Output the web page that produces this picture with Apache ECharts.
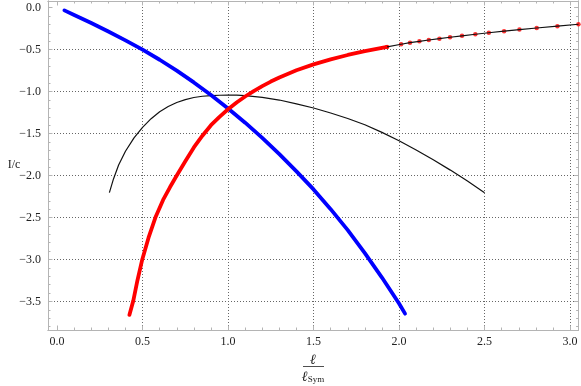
<!DOCTYPE html>
<html><head><meta charset="utf-8">
<script src="https://cdn.jsdelivr.net/npm/echarts@6/dist/echarts.min.js"></script>
<style>html,body{margin:0;padding:0;background:#fff}#c{width:581px;height:386px}</style>
</head><body><div id="c"></div>
<script>
// Blue curve
const blueX=[0.043,0.10,0.20,0.30,0.40,0.50,0.60,0.70,0.80,0.90,1.00,1.10,1.20,1.30,1.40,1.50,1.60,1.70,1.80,1.90,2.00,2.035];
const blueY=[-0.032,-0.086,-0.183,-0.284,-0.389,-0.50,-0.62,-0.75,-0.89,-1.04,-1.20,-1.37,-1.55,-1.745,-1.95,-2.165,-2.40,-2.65,-2.925,-3.215,-3.525,-3.645];
// Red curve (dense part)
const redX=[0.423,0.446,0.47,0.497,0.535,0.575,0.62,0.66,0.70,0.75,0.80,0.85,0.90,0.95,1.00,1.05,1.10,1.15,1.20,1.25,1.30,1.40,1.50,1.60,1.70,1.80,1.90,1.93];
const redY=[-3.66,-3.49,-3.25,-3.01,-2.74,-2.50,-2.29,-2.14,-2.00,-1.83,-1.665,-1.525,-1.40,-1.30,-1.21,-1.13,-1.058,-0.993,-0.934,-0.880,-0.831,-0.746,-0.675,-0.615,-0.563,-0.518,-0.478,-0.467];
// Red curve (sparse dots with fitted black line)
const dotX=[1.93,2.012,2.064,2.119,2.174,2.236,2.298,2.368,2.446,2.525,2.614,2.704,2.805,2.926,3.049];
const dotY=[-0.467,-0.435,-0.417,-0.400,-0.385,-0.369,-0.352,-0.335,-0.316,-0.298,-0.279,-0.261,-0.242,-0.220,-0.197];
// Black curve
const blackX=[0.306,0.33,0.36,0.40,0.45,0.50,0.55,0.60,0.65,0.70,0.75,0.80,0.85,0.90,0.95,1.00,1.05,1.10,1.20,1.30,1.40,1.50,1.60,1.70,1.80,1.90,2.00,2.10,2.20,2.30,2.40,2.50];
const blackY=[-2.204,-2.04,-1.875,-1.71,-1.55,-1.425,-1.322,-1.24,-1.178,-1.13,-1.095,-1.070,-1.055,-1.047,-1.043,-1.042,-1.042,-1.048,-1.068,-1.10,-1.145,-1.195,-1.255,-1.32,-1.395,-1.485,-1.585,-1.695,-1.812,-1.935,-2.065,-2.204];
// Ticks
const xMajor=[0,0.5,1,1.5,2,2.5,3];
const xMinor=[0.1,0.2,0.3,0.4,0.6,0.7,0.8,0.9,1.1,1.2,1.3,1.4,1.6,1.7,1.8,1.9,2.1,2.2,2.3,2.4,2.6,2.7,2.8,2.9];
const xGrid=[0.5,1,1.5,2,2.5,3];
const yMajor=[-3.5,-3,-2.5,-2,-1.5,-1,-0.5,0];
const yMinor=[-3.8,-3.7,-3.6,-3.4,-3.3,-3.2,-3.1,-2.9,-2.8,-2.7,-2.6,-2.4,-2.3,-2.2,-2.1,-1.9,-1.8,-1.7,-1.6,-1.4,-1.3,-1.2,-1.1,-0.9,-0.8,-0.7,-0.6,-0.4,-0.3,-0.2,-0.1];
const yGrid=[-3.5,-3,-2.5,-2,-1.5,-1,-0.5];

const X0=-0.053,X1=3.05,Y0=-3.84,Y1=0.08;
const frame='#b4b4b4';
const fmt=v=>(v<0?'\u2212':'')+Math.abs(v).toFixed(1);
const font='"Liberation Serif","Times New Roman",serif';

function ax(type,pos,ticks,len,labels,grid){
  return {
    type:'value',position:pos,
    min:type==='x'?X0:Y0,max:type==='x'?X1:Y1,
    axisLine:{show:!grid,onZero:false,lineStyle:{color:frame,width:1}},
    axisTick:{show:!grid,inside:true,length:len,customValues:ticks,lineStyle:{color:frame,width:1}},
    axisLabel:{show:!!labels,customValues:ticks,formatter:fmt,color:'#222',fontFamily:font,fontSize:12,margin:type==='x'?6:7},
    splitLine:{show:!!grid,lineStyle:{color:'#666',width:1,type:[1,2]}},
    minorTick:{show:false},
    z:grid?0:5
  };
}
const zip=(a,b)=>a.map((v,i)=>[v,b[i]]);

const chart=echarts.init(document.getElementById('c'),null,{renderer:'canvas'});
chart.setOption({
  animation:false,
  backgroundColor:'#fff',
  grid:{left:48,right:2.4,top:1,bottom:56,containLabel:false},
  xAxis:[
    ax('x','bottom',xMajor,4.5,true,false),
    ax('x','bottom',xMinor,2.5,false,false),
    ax('x','top',xMajor,4.5,false,false),
    ax('x','top',xMinor,2.5,false,false),
    ax('x','bottom',xGrid,0,false,true)
  ],
  yAxis:[
    ax('y','left',yMajor,4.5,true,false),
    ax('y','left',yMinor,2.5,false,false),
    ax('y','right',yMajor,4.5,false,false),
    ax('y','right',yMinor,2.5,false,false),
    ax('y','left',yGrid,0,false,true)
  ],
  series:[
    {type:'line',data:zip(blackX,blackY),showSymbol:false,smooth:false,lineStyle:{color:'#111',width:1.2},z:3},
    {type:'line',data:zip(blueX,blueY),showSymbol:false,smooth:false,lineStyle:{color:'#0000ff',width:3.8,cap:'round',join:'round'},z:4},
    {type:'line',data:zip(redX,redY),showSymbol:false,smooth:false,lineStyle:{color:'#ff0000',width:3.8,cap:'round',join:'round'},z:5},
    {type:'scatter',data:zip(dotX,dotY),symbol:'circle',symbolSize:4.5,itemStyle:{color:'#ff0000'},z:6},
    {type:'line',data:zip(dotX,dotY),showSymbol:false,smooth:false,lineStyle:{color:'#111',width:1.2},z:7}
  ],
  graphic:[
    {type:'text',x:313,y:360,style:{text:'\u2113',font:'italic 14px '+font,fill:'#222',align:'center',verticalAlign:'middle'}},
    {type:'line',shape:{x1:303,y1:366.5,x2:324,y2:366.5},style:{stroke:'#222',lineWidth:0.8}},
    {type:'text',x:313,y:377,style:{
      text:'{l|\u2113}{s|Sym}',align:'center',verticalAlign:'middle',
      rich:{l:{font:'italic 14px '+font,fill:'#222'},s:{font:'9px '+font,fill:'#222',padding:[6,0,0,0]}}
    }},
    {type:'text',x:14,y:165,style:{text:'I/c',font:'12px '+font,fill:'#222',align:'center',verticalAlign:'middle'}}
  ]
});
</script></body></html>
